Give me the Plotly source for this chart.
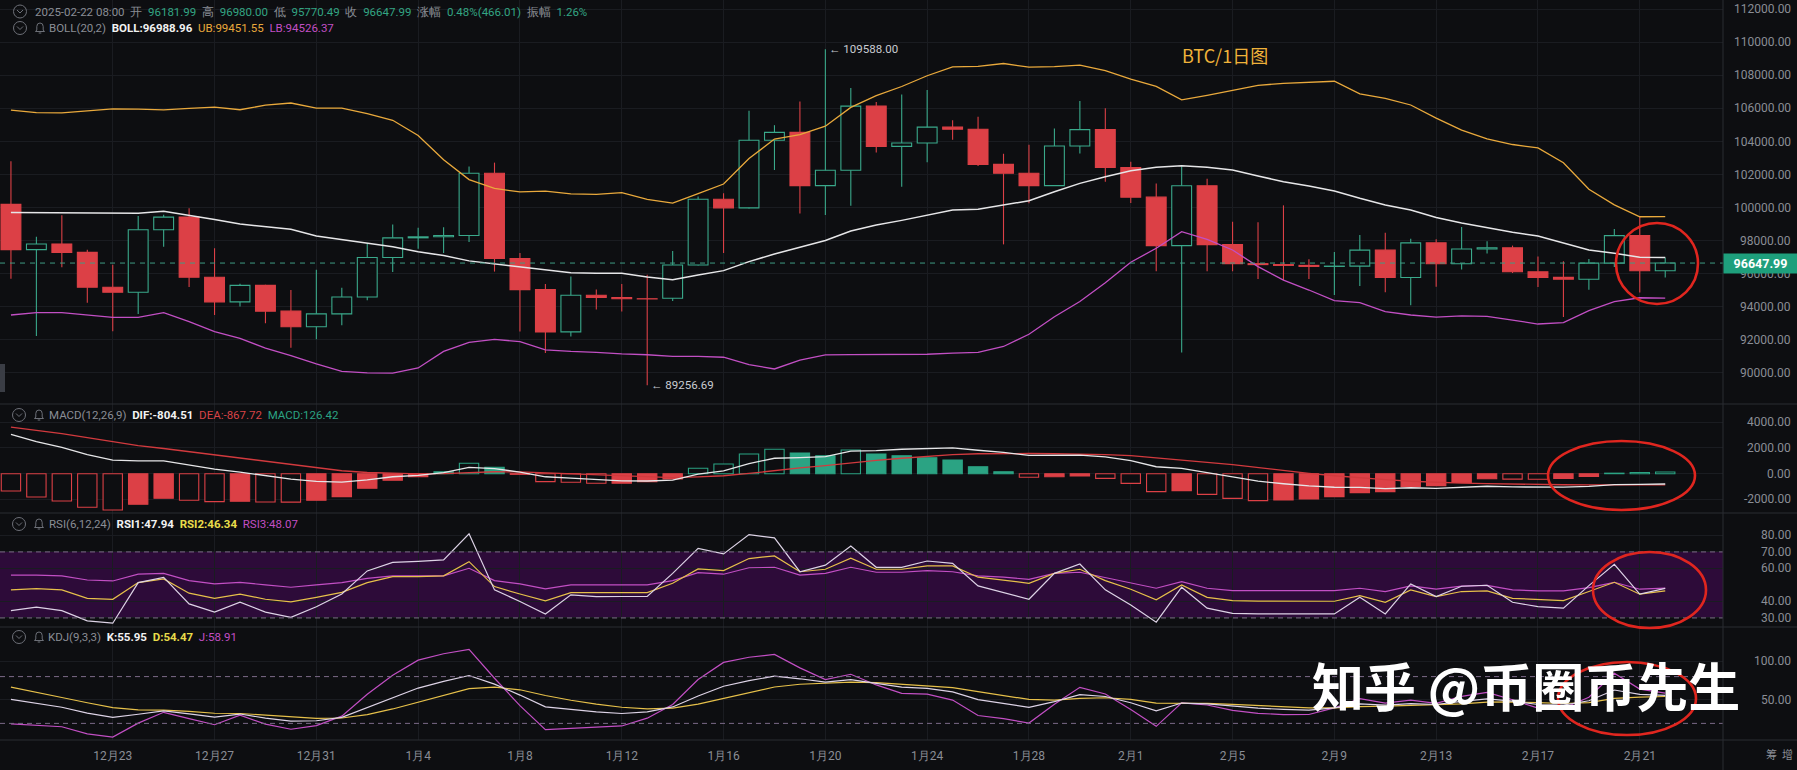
import pandas as pd
import plotly.graph_objects as go
from plotly.subplots import make_subplots

# ---------------- data ----------------
DATES = pd.date_range("2024-12-19", periods=66, freq="D")

OPEN = [100197.98, 97461.86, 97805.44, 97291.99, 95186.27, 94881.47, 98663.58, 99429.60, 95791.60, 94299.03,
        95300.00, 93738.19, 92792.05, 93576.00, 94591.78, 96984.79, 98174.17, 98236.24, 98314.95, 102078.09,
        96922.70, 95043.52, 92484.04, 94701.46, 94566.60, 94488.43, 94516.52, 96534.05, 100504.50, 99987.30,
        104077.47, 104556.23, 101331.57, 102260.00, 106143.82, 103706.66, 103910.35, 104870.51, 104746.86, 102620.01,
        102082.83, 101335.52, 103733.25, 104722.94, 102429.56, 100635.66, 97700.59, 101328.51, 97763.14, 96612.44,
        96554.35, 96506.80, 96444.75, 96462.75, 97430.82, 95778.21, 97870.00, 96608.13, 97500.47, 97569.67,
        96118.12, 95780.01, 95671.74, 96644.37, 98305.01, 96181.99]
HIGH = [102800.11, 98233.00, 99540.61, 97448.08, 96538.92, 99487.99, 99569.15, 99963.70, 97544.58, 95389.11,
        95340.00, 95024.50, 96250.00, 95151.15, 97839.50, 98976.91, 98778.43, 98813.30, 102482.88, 102724.38,
        97258.16, 95382.32, 95836.00, 95050.94, 95378.16, 95940.00, 97371.00, 100681.94, 100868.99, 105865.22,
        104988.88, 106422.43, 109588.00, 107240.81, 106394.46, 106850.00, 107120.00, 105286.52, 105500.00, 103260.00,
        103800.00, 104782.68, 106457.44, 106012.00, 102783.71, 101456.60, 102500.01, 101745.00, 99149.00, 99120.00,
        100137.99, 96880.00, 97323.09, 98345.00, 98478.42, 98119.99, 98083.91, 98826.00, 97972.26, 97704.47,
        97046.59, 96753.91, 96899.99, 98711.36, 99475.00, 96980.00]
LOW = [95700.00, 92232.54, 96398.39, 94250.35, 92520.00, 93569.02, 97632.02, 95199.14, 93500.01, 94016.19,
       93009.52, 91530.45, 92033.73, 92888.00, 94392.00, 96100.01, 97514.79, 97258.22, 97925.51, 96132.00,
       92500.90, 91203.67, 92206.02, 93831.73, 93711.19, 89256.69, 94346.17, 96500.00, 97262.21, 99950.77,
       102277.55, 99651.60, 99550.00, 100119.04, 103339.12, 101262.28, 102750.00, 104106.09, 102520.44, 97777.77,
       100272.68, 101328.01, 103278.54, 101560.00, 100279.51, 96150.00, 91231.00, 96150.00, 96155.00, 95676.64,
       95620.34, 95688.00, 94713.00, 95256.00, 94876.88, 94088.23, 95217.36, 96252.82, 97223.58, 96046.18,
       95205.00, 93388.09, 95029.99, 96415.09, 94871.95, 95770.49]
CLOSE = [97461.86, 97805.44, 97291.99, 95186.27, 94881.47, 98663.58, 99429.60, 95791.60, 94299.03, 95300.00,
         93738.20, 92792.05, 93576.00, 94591.79, 96984.79, 98174.18, 98236.23, 98314.96, 102078.09, 96922.71,
         95043.52, 92484.04, 94701.46, 94566.59, 94488.44, 94478.00, 96534.04, 100504.49, 99987.30, 104077.48,
         104556.23, 101331.57, 102260.01, 106143.82, 103706.66, 103910.34, 104870.50, 104746.85, 102620.00, 102082.83,
         101335.52, 103733.24, 104722.94, 102429.56, 100635.65, 97700.59, 101328.52, 97763.13, 96612.43, 96554.35,
         96506.80, 96444.74, 96462.75, 97430.82, 95778.20, 97869.99, 96608.14, 97500.48, 97569.66, 96118.12,
         95780.00, 95671.74, 96644.37, 98305.00, 96181.98, 96647.99]

BOLL_MID = [99700, 99700, 99690, 99680, 99670, 99660, 99780, 99555, 99290, 99010,
            98850, 98690, 98285, 98060, 97843, 97638, 97335, 97100, 96780, 96600,
            96420, 96200, 96065, 96027, 96027, 95800, 95635, 95925, 96190, 96735,
            97195, 97600, 98010, 98587, 98950, 99230, 99555, 99858, 99900, 100160,
            100420, 100965, 101470, 101870, 102235, 102440, 102535, 102440, 102280, 101915,
            101570, 101310, 101008, 100565, 100160, 99858, 99400, 99070, 98790, 98510,
            98285, 97880, 97440, 97240, 97000, 96988.96]
BOLL_UB = [105895, 105755, 105735, 105855, 105975, 105955, 105915, 106010, 106085, 105925,
           106200, 106330, 106020, 106020, 105686, 105286, 104370, 102900, 101700, 101165,
           100950, 101000, 100830, 100804, 100904, 100500, 100270, 100850, 101430, 102970,
           104150, 104420, 104930, 106064, 106780, 107330, 107980, 108516, 108550, 108720,
           108500, 108530, 108620, 108290, 107770, 107340, 106525, 106795, 107120, 107400,
           107520, 107603, 107646, 106880, 106615, 106211, 105420, 104690, 104160, 103820,
           103610, 102720, 101115, 100170, 99450, 99451.55]
BOLL_LB = [93505, 93645, 93645, 93505, 93365, 93365, 93645, 93100, 92495, 92095,
           91500, 91050, 90550, 90100, 90000, 89990, 90300, 91300, 91850, 92035,
           91890, 91400, 91300, 91250, 91150, 91100, 91000, 91000, 90950, 90500,
           90240, 90780, 91090, 91110, 91120, 91130, 91130, 91200, 91250, 91600,
           92340, 93400, 94320, 95450, 96700, 97540, 98545, 98085, 97440, 96430,
           95620, 95017, 94370, 94250, 93705, 93505, 93380, 93450, 93420, 93200,
           92960, 93040, 93765, 94310, 94550, 94526.37]

DIF = [3050, 2500, 2048, 1492, 1058, 999, 1002, 674, 362, 125,
       -160, -425, -596, -664, -479, -238, -125, 75, 495, 400,
       115, -240, -345, -475, -560, -570, -508, -40, 218, 785,
       1200, 1255, 1320, 1762, 1795, 1900, 1973, 2013, 1823, 1658,
       1430, 1433, 1440, 1308, 1024, 540, 419, 76, -260, -580,
       -785, -955, -1055, -1069, -1170, -1096, -1147, -1077, -980, -1030,
       -1055, -1050, -985, -855, -827, -804.51]
DEA = [3620, 3370, 3110, 2800, 2470, 2190, 1960, 1710, 1450, 1200,
       940, 680, 440, 230, 90, 20, -10, 0, 90, 150,
       140, 70, -10, -100, -190, -260, -300, -250, -160, 20,
       250, 450, 620, 840, 1030, 1200, 1350, 1480, 1550, 1580,
       1570, 1550, 1530, 1490, 1400, 1240, 1080, 880, 700, 470,
       240, 30, -160, -330, -470, -590, -680, -740, -780, -820,
       -840, -860, -875, -875, -872, -867.72]
MACD_HIST = [-1346, -1813, -2124, -2615, -2824, -2382, -1916, -2072, -2176, -2150,
             -2200, -2210, -2072, -1787, -1138, -515, -230, 150, 810, 500,
             -50, -620, -670, -750, -740, -620, -415, 420, 755, 1530,
             1900, 1610, 1400, 1843, 1530, 1400, 1245, 1065, 545, 155,
             -280, -233, -180, -363, -752, -1400, -1322, -1608, -1919, -2100,
             -2049, -1970, -1789, -1478, -1400, -1011, -933, -674, -400, -420,
             -430, -380, -220, 40, 90, 126.42]

RSI1 = [34.4, 36.5, 34.4, 28.2, 26.8, 51.4, 54.6, 38.5, 33.5, 39.5,
        33.5, 30.4, 36.8, 44.5, 58.5, 63.7, 64.3, 65.2, 81.0, 47.0,
        40.0, 32.4, 44.0, 42.9, 43.0, 43.0, 57.0, 72.2, 68.8, 80.5,
        78.5, 58.0, 62.0, 73.6, 60.7, 60.7, 64.5, 63.1, 49.4, 45.3,
        41.3, 57.0, 62.7, 47.0, 37.9, 27.4, 48.6, 35.9, 32.8, 32.5,
        32.4, 32.3, 32.4, 42.5, 32.4, 50.6, 42.9, 49.2, 49.8, 39.5,
        36.8, 35.9, 49.6, 62.5, 44.4, 47.94]
RSI2 = [47.0, 47.8, 47.0, 41.9, 41.3, 51.4, 53.6, 45.0, 41.9, 44.4,
        41.3, 39.7, 42.5, 45.5, 51.4, 55.0, 55.0, 55.5, 64.1, 49.0,
        44.5, 40.3, 45.3, 45.3, 45.3, 45.3, 51.0, 59.7, 58.7, 66.0,
        67.6, 58.0, 59.5, 66.2, 59.5, 59.5, 61.5, 61.5, 54.7, 53.0,
        51.0, 57.0, 59.5, 52.6, 47.4, 41.0, 50.0, 42.5, 40.5, 40.2,
        40.1, 40.0, 40.1, 43.5, 39.5, 47.0, 42.9, 46.0, 46.4, 41.9,
        41.3, 40.5, 46.0, 51.6, 44.4, 46.34]
RSI3 = [56.0, 56.0, 55.5, 53.0, 52.4, 56.5, 57.0, 52.6, 50.6, 51.6,
        50.0, 48.6, 50.0, 51.4, 54.0, 55.5, 55.5, 55.5, 60.1, 52.6,
        50.6, 47.6, 50.0, 50.0, 50.0, 50.0, 52.6, 57.5, 56.5, 60.4,
        60.7, 56.0, 57.0, 60.7, 57.7, 57.7, 58.7, 58.0, 55.5, 54.7,
        53.4, 57.0, 57.7, 54.4, 51.4, 48.0, 52.0, 48.0, 46.5, 46.5,
        46.5, 46.5, 46.5, 48.0, 46.0, 49.4, 47.4, 49.3, 49.7, 47.0,
        46.4, 46.4, 48.4, 51.6, 47.4, 48.07]

KDJ_K = [50.7, 45.3, 40.7, 33.2, 27.6, 31.7, 36.0, 32.3, 28.1, 32.0,
         26.8, 22.9, 23.4, 27.7, 40.0, 52.9, 65.3, 73.9, 81.4, 70.3,
         56.3, 41.2, 37.6, 34.8, 32.7, 34.7, 41.1, 55.2, 67.6, 74.8,
         80.6, 77.2, 72.8, 76.2, 71.3, 66.4, 64.8, 60.5, 50.5, 45.8,
         40.6, 48.0, 56.8, 54.5, 46.5, 36.0, 46.1, 45.0, 41.8, 39.5,
         37.9, 37.0, 39.8, 44.9, 43.4, 45.4, 44.2, 48.3, 51.4, 48.5,
         44.2, 43.5, 49.0, 62.8, 57.2, 55.95]
KDJ_D = [66.4, 59.4, 53.2, 46.5, 40.2, 37.4, 36.9, 35.4, 33.0, 32.7,
         30.7, 28.1, 26.5, 26.9, 31.3, 38.5, 47.4, 56.2, 64.6, 66.5,
         63.1, 55.8, 49.7, 44.7, 40.7, 38.7, 39.5, 44.7, 52.3, 59.8,
         66.7, 70.2, 71.1, 72.8, 72.3, 70.3, 68.5, 65.8, 60.7, 55.7,
         50.7, 49.8, 52.1, 52.9, 50.8, 45.9, 46.0, 45.7, 44.4, 42.8,
         41.2, 39.8, 39.8, 41.5, 42.1, 43.2, 43.5, 45.1, 47.2, 47.6,
         46.5, 45.5, 46.7, 52.1, 53.8, 54.47]
KDJ_J = [19.3, 17.1, 15.7, 6.6, 2.4, 20.3, 34.2, 26.1, 18.3, 30.6,
         19.0, 12.5, 17.2, 29.3, 57.4, 81.7, 101.1, 109.3, 115.0, 77.9,
         42.7, 12.0, 13.4, 15.0, 16.7, 26.7, 44.3, 76.2, 98.2, 104.8,
         108.4, 91.2, 76.2, 83.0, 69.3, 58.6, 57.4, 49.9, 30.1, 26.0,
         20.4, 44.4, 66.2, 57.7, 37.9, 16.2, 46.3, 43.6, 36.6, 32.9,
         31.3, 31.4, 39.8, 51.7, 46.0, 49.8, 45.6, 54.7, 59.8, 50.3,
         39.6, 39.5, 53.6, 84.2, 64.0, 58.91]

TICK_DATES = pd.to_datetime(["2024-12-23", "2024-12-27", "2024-12-31", "2025-01-04", "2025-01-08", "2025-01-12",
                             "2025-01-16", "2025-01-20", "2025-01-24", "2025-01-28", "2025-02-01", "2025-02-05",
                             "2025-02-09", "2025-02-13", "2025-02-17", "2025-02-21"])
TICK_LABELS = ["12月23", "12月27", "12月31", "1月4", "1月8", "1月12", "1月16", "1月20",
               "1月24", "1月28", "2月1", "2月5", "2月9", "2月13", "2月17", "2月21"]
PRICE_TICKS = list(range(90000, 112001, 2000))
MACD_TICKS = [-2000, 0, 2000, 4000]
RSI_TICKS = [30, 40, 60, 70, 80]
KDJ_TICKS = [50, 100]
LAST_PRICE = 96647.99
HIGH_MARK = (pd.Timestamp("2025-01-20"), 109588.00)
LOW_MARK = (pd.Timestamp("2025-01-13"), 89256.69)

# ---------------- styling ----------------
BG = "#0d0e11"
GRID = "#1a1c21"
SEP = "#2a2c32"
TXT = "#8a8d95"
GREEN = "#3aa98b"
RED = "#dc4046"
MGREEN = "#2ba383"
WHITE = "#e6e6e8"
ORANGE = "#e9a93c"
MAGENTA = "#c24fc4"
RWHITE = "#ddd3e6"
YELLOW = "#e6c04a"
BAND = "#2d0b39"
DASHC = "#7c6a88"
CIRC = "#e0261f"
FONT = "Roboto"

W, H = 1797, 770
L, R, T, B = 0, 74, 0, 30
PW, PH = W - L - R, H - T - B


def px(x):
    return x / PW


def py(y):
    return 1 - y / PH


DAY = 86400000
BODY_W = 0.78 * DAY
N = len(DATES)

fig = make_subplots(rows=4, cols=1, shared_xaxes=True, vertical_spacing=0,
                    row_heights=[404, 109, 114, 113])

# ---------- candles ----------
up = [i for i in range(N) if CLOSE[i] >= OPEN[i]]
dn = [i for i in range(N) if CLOSE[i] < OPEN[i]]


def wick_xy(idx):
    xs, ys = [], []
    for i in idx:
        top, bot = max(OPEN[i], CLOSE[i]), min(OPEN[i], CLOSE[i])
        d = DATES[i]
        xs += [d, d, None, d, d, None]
        ys += [HIGH[i], top, None, bot, LOW[i], None]
    return xs, ys


for idx, col, fill in [(up, GREEN, BG), (dn, RED, RED)]:
    fig.add_trace(go.Bar(x=[DATES[i] for i in idx],
                         y=[abs(CLOSE[i] - OPEN[i]) for i in idx],
                         base=[min(OPEN[i], CLOSE[i]) for i in idx],
                         width=BODY_W,
                         marker=dict(color=fill, line=dict(color=col, width=1.1))),
                  row=1, col=1)
    wx, wy = wick_xy(idx)
    fig.add_trace(go.Scatter(x=wx, y=wy, mode="lines", line=dict(color=col, width=1.1),
                             connectgaps=False), row=1, col=1)

fig.add_trace(go.Scatter(x=DATES, y=BOLL_UB, mode="lines", line=dict(color=ORANGE, width=1.3)), row=1, col=1)
fig.add_trace(go.Scatter(x=DATES, y=BOLL_LB, mode="lines", line=dict(color=MAGENTA, width=1.3)), row=1, col=1)
fig.add_trace(go.Scatter(x=DATES, y=BOLL_MID, mode="lines", line=dict(color=WHITE, width=1.5)), row=1, col=1)

# ---------- MACD ----------
fills, lines = [], []
for i, h in enumerate(MACD_HIST):
    c = MGREEN if h >= 0 else RED
    hollow = i == 0 or abs(h) > abs(MACD_HIST[i - 1])
    fills.append(BG if hollow else c)
    lines.append(c)
fig.add_trace(go.Bar(x=DATES, y=MACD_HIST, width=0.76 * DAY,
                     marker=dict(color=fills, line=dict(color=lines, width=1.1))), row=2, col=1)
fig.add_trace(go.Scatter(x=DATES, y=DEA, mode="lines", line=dict(color="#d23a3e", width=1.3)), row=2, col=1)
fig.add_trace(go.Scatter(x=DATES, y=DIF, mode="lines", line=dict(color=WHITE, width=1.3)), row=2, col=1)

# ---------- RSI ----------
for y, c in [(RSI3, MAGENTA), (RSI2, YELLOW), (RSI1, RWHITE)]:
    fig.add_trace(go.Scatter(x=DATES, y=y, mode="lines", line=dict(color=c, width=1.2)), row=3, col=1)

# ---------- KDJ ----------
for y, c in [(KDJ_J, MAGENTA), (KDJ_D, YELLOW), (KDJ_K, RWHITE)]:
    fig.add_trace(go.Scatter(x=DATES, y=y, mode="lines", line=dict(color=c, width=1.2)), row=4, col=1)

# ---------- axes ----------
x0 = DATES[0] - pd.Timedelta(hours=0.43 * 24)
x1 = DATES[0] + pd.Timedelta(hours=67.27 * 24)
for r in range(1, 5):
    fig.update_xaxes(row=r, col=1, range=[x0, x1], tickvals=TICK_DATES, ticktext=TICK_LABELS,
                     showgrid=True, gridcolor=GRID, gridwidth=1, zeroline=False, showline=False,
                     showticklabels=(r == 4), ticks="outside" if r == 4 else "", ticklen=5,
                     tickcolor="rgba(0,0,0,0)", tickfont=dict(family=FONT, size=12, color=TXT),
                     rangeslider=dict(visible=False), fixedrange=True)

# y axes: grid from the axes, right-aligned tick labels written as annotations
yax = dict(side="right", showgrid=True, gridcolor=GRID, gridwidth=1, zeroline=False, showline=False,
           showticklabels=False, ticks="", fixedrange=True)
PANELS = [("y", [88121, 112563], PRICE_TICKS), ("y2", [-3060, 5423], MACD_TICKS),
          ("y3", [24.5, 93.6], RSI_TICKS), ("y4", [-1.3, 143.6], KDJ_TICKS)]
for r, (yref, rng, tv) in enumerate(PANELS, start=1):
    fig.update_yaxes(row=r, col=1, range=rng, tickvals=tv, **yax)

shapes = []
# RSI band and dashed levels
shapes.append(dict(type="rect", xref="x3 domain", yref="y3", x0=0, x1=1, y0=30, y1=70,
                   fillcolor=BAND, line=dict(width=0), layer="below"))
for lv in (30, 70):
    shapes.append(dict(type="line", xref="x3 domain", yref="y3", x0=0, x1=1, y0=lv, y1=lv,
                       line=dict(color=DASHC, width=1, dash="5px,4px")))
for lv in (20, 80):
    shapes.append(dict(type="line", xref="x4 domain", yref="y4", x0=0, x1=1, y0=lv, y1=lv,
                       line=dict(color=DASHC, width=1, dash="5px,4px")))
# last price dashed line
shapes.append(dict(type="line", xref="x domain", yref="y", x0=0, x1=1, y0=LAST_PRICE, y1=LAST_PRICE,
                   line=dict(color="#3f9c84", width=1, dash="5px,5px")))
# panel separators & right border
for yy in (404, 513, 627, 740):
    shapes.append(dict(type="line", xref="paper", yref="paper", x0=0, x1=px(W), y0=py(yy), y1=py(yy),
                       line=dict(color=SEP, width=1)))
shapes.append(dict(type="line", xref="paper", yref="paper", x0=1, x1=1, y0=py(770), y1=1,
                   line=dict(color=SEP, width=1)))
# left side tab
shapes.append(dict(type="rect", xref="paper", yref="paper", x0=0, x1=px(5), y0=py(392), y1=py(364),
                   fillcolor="#3a3d45", line=dict(width=0)))
# red hand-drawn ellipses
for (ax0, ay0, ax1, ay1) in [(1616, 223, 1698, 304), (1548, 441, 1695, 510),
                             (1593, 552, 1706, 628), (1558, 662, 1696, 735)]:
    shapes.append(dict(type="circle", xref="paper", yref="paper", x0=px(ax0), x1=px(ax1),
                       y0=py(ay1), y1=py(ay0), line=dict(color=CIRC, width=2.6)))

# header icons: circled chevron + bell
ICON = "#6d7078"
for (cx, cy, bell) in [(20, 11.5, False), (20, 28, True), (19, 415, True), (19, 524, True), (19, 637, True)]:
    shapes.append(dict(type="circle", xref="paper", yref="paper", xsizemode="pixel", ysizemode="pixel",
                       xanchor=px(cx), yanchor=py(cy), x0=-6.5, x1=6.5, y0=-6.5, y1=6.5,
                       line=dict(color=ICON, width=1)))
    shapes.append(dict(type="path", xref="paper", yref="paper", xsizemode="pixel", ysizemode="pixel",
                       xanchor=px(cx), yanchor=py(cy), path="M -3 1.5 L 0 -1.5 L 3 1.5",
                       line=dict(color=ICON, width=1)))
    if bell:
        bx = cx + 20
        shapes.append(dict(type="path", xref="paper", yref="paper", xsizemode="pixel", ysizemode="pixel",
                           xanchor=px(bx), yanchor=py(cy),
                           path="M -4.5 -3.5 L 4.5 -3.5 L 3.2 -2 L 3.2 1.5 Q 3.2 5 0 5 Q -3.2 5 -3.2 1.5 L -3.2 -2 Z M -1.3 -5 L 1.3 -5",
                           line=dict(color=ICON, width=1)))

fig.update_layout(shapes=shapes)

# ---------- annotations ----------
S = "\u00a0"


def sp(t, c):
    return f"<span style='color:{c}'>{t}</span>"


ann = []
# right-aligned axis tick labels
for yref, rng, tv in PANELS:
    for v in tv:
        ann.append(dict(xref="paper", yref=yref, x=px(1793), y=v, xanchor="right", yanchor="middle",
                        text=f"{v:.2f}", showarrow=False, font=dict(family=FONT, size=12, color=TXT)))

GV = "#33a583"
hdr = [
    (33, 12, sp("2025-02-22 08:00", TXT) + S * 2 + sp("开", TXT) + S * 2 + sp("96181.99", GV) + S * 2 +
     sp("高", TXT) + S * 2 + sp("96980.00", GV) + S * 2 + sp("低", TXT) + S * 2 + sp("95770.49", GV) + S * 2 +
     sp("收", TXT) + S * 2 + sp("96647.99", GV) + S * 2 + sp("涨幅", TXT) + S * 2 + sp("0.48%(466.01)", GV) + S * 2 +
     sp("振幅", TXT) + S * 2 + sp("1.26%", GV)),
    (47, 28, sp("BOLL(20,2)", TXT) + S * 2 + sp("<b>BOLL:96988.96</b>", "#f2f2f2") + S * 2 +
     sp("UB:99451.55", ORANGE) + S * 2 + sp("LB:94526.37", MAGENTA)),
    (47, 415, sp("MACD(12,26,9)", TXT) + S * 2 + sp("<b>DIF:-804.51</b>", "#f2f2f2") + S * 2 +
     sp("DEA:-867.72", "#d84347") + S * 2 + sp("MACD:126.42", MGREEN)),
    (47, 524, sp("RSI(6,12,24)", TXT) + S * 2 + sp("<b>RSI1:47.94</b>", "#f2f2f2") + S * 2 +
     sp("<b>RSI2:46.34</b>", "#e8dc4a") + S * 2 + sp("RSI3:48.07", MAGENTA)),
    (46, 637, sp("KDJ(9,3,3)", TXT) + S * 2 + sp("<b>K:55.95</b>", "#f2f2f2") + S * 2 +
     sp("<b>D:54.47</b>", "#e8dc4a") + S * 2 + sp("J:58.91", MAGENTA)),
]
for x, y, t in hdr:
    ann.append(dict(xref="paper", yref="paper", x=px(x), y=py(y), xanchor="left", yanchor="middle",
                    text=t, showarrow=False, font=dict(family=FONT, size=11.5, color=TXT)))

ann.append(dict(xref="x", yref="y", x=HIGH_MARK[0], y=HIGH_MARK[1], xanchor="left", yanchor="middle",
                xshift=2, text="← " + f"{HIGH_MARK[1]:.2f}", showarrow=False,
                font=dict(family=FONT, size=11.5, color="#c9ccd2")))
ann.append(dict(xref="x", yref="y", x=LOW_MARK[0], y=LOW_MARK[1], xanchor="left", yanchor="middle",
                xshift=2, text="← " + f"{LOW_MARK[1]:.2f}", showarrow=False,
                font=dict(family=FONT, size=11.5, color="#c9ccd2")))
ann.append(dict(xref="paper", yref="paper", x=px(1180), y=py(55), xanchor="left", yanchor="middle",
                text="BTC/1日图", showarrow=False,
                font=dict(family="Noto Sans CJK SC", size=18, color="#f0b23a")))
ann.append(dict(xref="paper", yref="y", x=1, y=LAST_PRICE, xanchor="left", yanchor="middle",
                text=f"<b>{LAST_PRICE:.2f}</b>", showarrow=False, bgcolor="#1e9f7c",
                width=70, height=16, borderpad=1.5,
                font=dict(family=FONT, size=12.5, color="#ffffff")))
ann.append(dict(xref="paper", yref="paper", x=px(1310), y=py(684), xanchor="left", yanchor="middle",
                text="知乎 @币圈币先生", showarrow=False,
                font=dict(family="Noto Sans CJK SC", size=52, color="#ffffff", weight=700)))
ann.append(dict(xref="paper", yref="paper", x=px(1764), y=py(754), xanchor="left", yanchor="middle",
                text="筹" + S * 2 + "增", showarrow=False,
                font=dict(family="Noto Sans CJK SC", size=11, color=TXT)))

fig.update_layout(
    annotations=ann,
    width=W, height=H,
    margin=dict(l=L, r=R, t=T, b=B),
    paper_bgcolor=BG, plot_bgcolor=BG,
    showlegend=False, barmode="overlay", hovermode=False,
    font=dict(family=FONT, color=TXT),
)

fig.write_html("out.html", config={"displayModeBar": False},
               post_script="document.body.style.margin='0';document.body.style.background='" + BG + "';")
